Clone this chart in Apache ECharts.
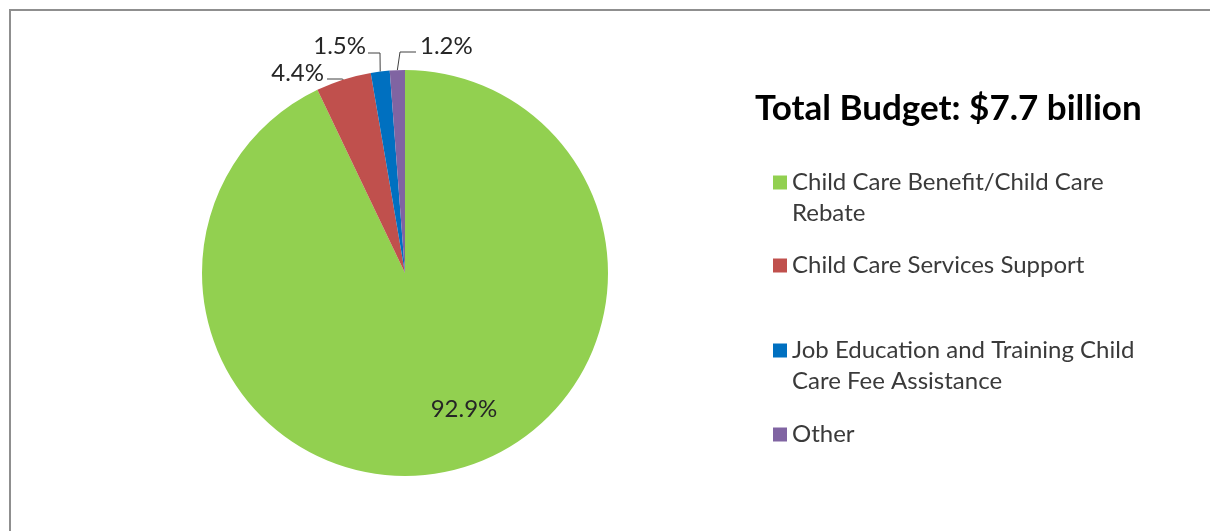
<!DOCTYPE html>
<html>
<head>
<meta charset="utf-8">
<script src="https://cdn.jsdelivr.net/npm/echarts@6/dist/echarts.min.js"></script>
<style>
  html, body { margin: 0; padding: 0; background: #ffffff; }
  #chart { width: 1210px; height: 531px; }
</style>
</head>
<body>
<div id="chart"></div>
<script>
// Budget components (share of total, %)
const categories = [
  'Child Care Benefit/Child Care Rebate',
  'Child Care Services Support',
  'Job Education and Training Child Care Fee Assistance',
  'Other'
];
const shares = [92.9, 4.4, 1.5, 1.2];
const totalLabel = 'Total Budget: $7.7 billion';

const colors = ['#92D050', '#C0504D', '#0070C0', '#8064A2'];
const FONT = 'Lato';

// Where each slice label sits, with the bend points of its leader line
const labelSpots = [
  { x: 464, y: 409, align: 'center' },
  { x: 324, y: 73, align: 'right', bend: [[342, 79], [327, 79]] },
  { x: 366, y: 46, align: 'right', bend: [[380, 53], [368, 53]] },
  { x: 420, y: 46, align: 'left',  bend: [[400, 52], [416, 52]] }
];

// Legend rows: vertical centre of the first text line, and line count
const legendRows = [
  { center: 182, lines: 2 },
  { center: 265, lines: 1 },
  { center: 350, lines: 2 },
  { center: 434, lines: 1 }
];
const LINE_H = 31;

// A blank leading line keeps the swatch level with the first text line
const legends = categories.map((name, i) => {
  const row = legendRows[i];
  const boxLines = row.lines > 1 ? row.lines + 1 : 1;
  return {
    data: [name],
    left: 773,
    top: Math.round(row.center - boxLines * LINE_H / 2),
    orient: 'vertical',
    padding: 0,
    icon: 'rect',
    itemWidth: 14,
    itemHeight: 14,
    selectedMode: false,
    formatter: n => (row.lines > 1 ? ' \n' : '') + n,
    textStyle: {
      fontFamily: FONT,
      fontSize: 24,
      color: '#3a3a3a',
      lineHeight: LINE_H,
      width: 365,
      overflow: 'break'
    }
  };
});

const chart = echarts.init(document.getElementById('chart'), null, { renderer: 'canvas' });

chart.setOption({
  backgroundColor: '#ffffff',
  animation: false,
  color: colors,
  title: {
    text: totalLabel,
    left: 755,
    top: 91,
    padding: 0,
    textStyle: { fontFamily: FONT, fontWeight: 'bold', fontSize: 35, color: '#000000' }
  },
  legend: legends,
  graphic: [{
    type: 'rect',
    silent: true,
    z: -10,
    shape: { x: 10, y: 10, width: 1400, height: 800 },
    style: { fill: 'none', stroke: '#8f8f8f', lineWidth: 2 }
  }],
  series: [{
    type: 'pie',
    center: [405, 273],
    radius: 203,
    startAngle: 90,
    clockwise: true,
    emphasis: { disabled: true },
    itemStyle: { borderWidth: 0 },
    data: categories.map((name, i) => ({
      name: name,
      value: shares[i],
      label: i === 0 ? { position: 'inside' } : undefined,
      labelLine: { show: i !== 0 }
    })),
    label: {
      show: true,
      position: 'outside',
      formatter: p => p.value.toFixed(1) + '%',
      fontFamily: FONT,
      fontSize: 24,
      color: '#262626'
    },
    labelLine: {
      show: true,
      length: 10,
      length2: 10,
      lineStyle: { color: '#404040', width: 1 }
    },
    labelLayout: function (p) {
      const s = labelSpots[p.dataIndex];
      const out = { x: s.x, y: s.y, align: s.align, verticalAlign: 'middle' };
      if (s.bend && p.labelLinePoints) {
        out.labelLinePoints = [p.labelLinePoints[0], s.bend[0], s.bend[1]];
      }
      return out;
    }
  }]
});
</script>
</body>
</html>
